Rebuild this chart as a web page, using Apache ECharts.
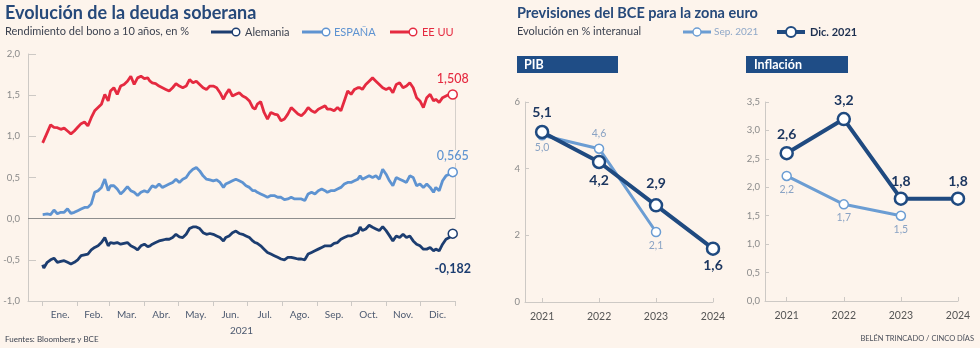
<!DOCTYPE html>
<html>
<head>
<meta charset="utf-8">
<script src="https://cdn.jsdelivr.net/npm/echarts@6/dist/echarts.min.js"></script>
<style>
  html, body { margin: 0; padding: 0; background: #fdf4ec; }
  #chart { width: 980px; height: 348px; }
</style>
</head>
<body>
<div id="chart"></div>
<script>
// 10-year bond yields in 2021 (day of year, %)
const days = [
  0,1,4,7,10,13,16,19,22,25,28,31,34,37,40,43,46,49,52,55,58,60,63,66,69,72,75,78,81,84,87,90,93,
  95,97,100,103,106,109,112,115,118,121,124,127,130,133,136,139,142,145,148,151,154,157,160,162,165,168,171,174,177,180,183,186,
  188,190,193,196,199,202,205,208,211,214,217,220,223,226,229,232,235,238,241,244,247,250,252,255,258,261,264,267,270,273,276,279,
  281,283,286,289,292,295,298,301,304,307,310,313,316,319,322,325,328,331,334,337,340,343,346,348,351,354,357,360,363
];
const yieldUS = [
  0.92,0.92,1.045,1.14,1.11,1.105,1.085,1.10,1.065,1.03,1.065,1.11,1.154,1.174,1.126,1.226,1.31,1.35,1.39,1.51,1.43,1.55,1.59,1.51,1.61,1.63,1.67,1.73,1.63,1.71,1.73,1.70,1.71,
  1.67,1.65,1.64,1.61,1.59,1.57,1.55,1.59,1.64,1.61,1.59,1.61,1.69,1.65,1.67,1.63,1.59,1.57,1.61,1.61,1.59,1.53,1.45,1.51,1.57,1.49,1.51,1.53,1.49,1.47,1.43,1.35,
  1.33,1.39,1.42,1.29,1.21,1.29,1.27,1.26,1.19,1.21,1.27,1.35,1.31,1.27,1.25,1.29,1.35,1.31,1.29,1.33,1.35,1.37,1.33,1.33,1.31,1.35,1.31,1.43,1.55,1.51,1.57,1.59,
  1.59,1.57,1.63,1.67,1.71,1.67,1.63,1.59,1.57,1.59,1.53,1.63,1.65,1.59,1.61,1.65,1.59,1.47,1.43,1.35,1.47,1.51,1.43,1.45,1.41,1.47,1.49,1.51,1.508
];
const yieldSpain = [
  0.05,0.03,0.057,0.05,0.105,0.06,0.077,0.077,0.12,0.065,0.077,0.097,0.117,0.137,0.137,0.18,0.32,0.34,0.38,0.48,0.34,0.40,0.40,0.36,0.30,0.34,0.39,0.34,0.32,0.28,0.32,0.34,0.32,
  0.36,0.40,0.38,0.42,0.38,0.40,0.42,0.44,0.48,0.44,0.48,0.50,0.56,0.60,0.62,0.58,0.52,0.48,0.47,0.46,0.47,0.44,0.38,0.42,0.44,0.46,0.48,0.46,0.44,0.40,0.38,0.34,
  0.34,0.32,0.30,0.28,0.26,0.28,0.28,0.26,0.26,0.23,0.24,0.26,0.24,0.24,0.24,0.22,0.30,0.32,0.30,0.34,0.36,0.34,0.32,0.34,0.34,0.36,0.38,0.42,0.44,0.44,0.46,0.48,
  0.52,0.48,0.50,0.52,0.50,0.52,0.48,0.60,0.54,0.46,0.40,0.50,0.48,0.46,0.44,0.52,0.50,0.40,0.42,0.38,0.42,0.38,0.32,0.38,0.34,0.46,0.52,0.54,0.565
];
const yieldGermany = [
  -0.56,-0.60,-0.53,-0.50,-0.48,-0.53,-0.52,-0.51,-0.53,-0.55,-0.53,-0.50,-0.45,-0.44,-0.43,-0.38,-0.35,-0.33,-0.29,-0.23,-0.33,-0.29,-0.30,-0.29,-0.31,-0.30,-0.29,-0.33,-0.35,-0.38,-0.33,-0.31,-0.34,
  -0.33,-0.31,-0.29,-0.27,-0.26,-0.25,-0.25,-0.23,-0.19,-0.22,-0.23,-0.19,-0.12,-0.10,-0.10,-0.12,-0.17,-0.19,-0.18,-0.19,-0.21,-0.23,-0.27,-0.23,-0.21,-0.17,-0.15,-0.18,-0.19,-0.21,-0.23,-0.27,
  -0.29,-0.30,-0.33,-0.37,-0.41,-0.43,-0.45,-0.47,-0.49,-0.50,-0.47,-0.47,-0.48,-0.49,-0.49,-0.50,-0.43,-0.41,-0.39,-0.37,-0.35,-0.33,-0.33,-0.33,-0.30,-0.29,-0.25,-0.23,-0.21,-0.21,-0.19,-0.17,
  -0.10,-0.145,-0.125,-0.08,-0.105,-0.125,-0.145,-0.097,-0.145,-0.206,-0.27,-0.21,-0.23,-0.19,-0.23,-0.21,-0.27,-0.31,-0.33,-0.37,-0.37,-0.35,-0.39,-0.37,-0.39,-0.31,-0.25,-0.23,-0.182
];
const monthStarts = [0,31,59,90,120,151,181,212,243,273,304,334,365];
const monthNames = ['Ene.','Feb.','Mar.','Abr.','May.','Jun.','Jul.','Ago.','Sep.','Oct.','Nov.','Dic.'];

// ECB projections
const years = [2021, 2022, 2023, 2024];
const pibDic = [5.1, 4.2, 2.9, 1.6];
const pibSep = [5.0, 4.6, 2.1];
const inflDic = [2.6, 3.2, 1.8, 1.8];
const inflSep = [2.2, 1.7, 1.5];

const BG = '#fdf4ec';
const C_DE = '#1c3d70';
const C_ES = '#5e93d1';
const C_US = '#e52a40';
const C_DIC = '#1f4a80';
const C_SEP = '#6b9dd3';
const AXIS = '#cdc9c5';
const LABEL = '#8a8a8a';
const FONT = 'Lato, "Noto Sans", sans-serif';

const comma = (v, d) => v.toFixed(d).replace('.', ',');

const midMonths = monthStarts.slice(0, 12).map((s, i) => (s + monthStarts[i + 1]) / 2);

function yieldSeries(name, values, color, labelPos, labelDist, bold) {
  const data = days.map((d, i) => [d, values[i]]);
  const last = data.length - 1;
  data[last] = {
    value: data[last],
    symbol: 'circle',
    symbolSize: 9,
    itemStyle: { color: '#fff', borderColor: color, borderWidth: 1.5 },
    label: {
      show: true, position: labelPos, distance: labelDist,
      formatter: p => comma(p.value[1], 3),
      color: color, fontSize: 12.5, fontWeight: bold ? 700 : 500, fontFamily: FONT,
      backgroundColor: BG, padding: [0, 1]
    }
  };
  return {
    type: 'line', name, xAxisIndex: 0, yAxisIndex: 0,
    data, symbol: 'none', showSymbol: true, smooth: false,
    lineStyle: { color, width: 2.8 }, itemStyle: { color },
    emphasis: { disabled: true }, animation: false, z: 3
  };
}

function forecastSeries(idx, values, color, width, size, border, fontSize, bold, positions, dists) {
  return {
    type: 'line', xAxisIndex: idx, yAxisIndex: idx,
    data: values.map((v, i) => ({
      value: [years[i], v],
      label: { position: positions[i], distance: dists[i] }
    })),
    symbol: 'circle', symbolSize: size,
    lineStyle: { color, width },
    itemStyle: { color: '#fff', borderColor: color, borderWidth: border },
    label: {
      show: true, formatter: p => comma(p.value[1], 1),
      color: bold ? '#1d3760' : '#8aa3c4', fontSize, fontWeight: bold ? 700 : 400, fontFamily: FONT
    },
    emphasis: { disabled: true }, animation: false, z: bold ? 4 : 3
  };
}

const smallAxisLabel = { color: LABEL, fontSize: 9.5, fontFamily: FONT };

function yearAxis(gridIndex, min) {
  return {
    gridIndex, type: 'value', min, max: 2024,
    axisLine: { show: true, onZero: false, lineStyle: { color: AXIS } },
    axisTick: { show: true, inside: true, length: 4, customValues: years, lineStyle: { color: AXIS } },
    axisLabel: { customValues: years, margin: 9, formatter: v => String(v), color: '#555', fontSize: 10.5, fontFamily: FONT },
    splitLine: { show: false }
  };
}

function valueAxis(gridIndex, max, interval, decimals, tickLen) {
  return {
    gridIndex, type: 'value', min: 0, max, interval,
    axisLine: { show: true, onZero: false, lineStyle: { color: AXIS } },
    axisTick: { show: true, inside: true, length: tickLen, lineStyle: { color: AXIS } },
    axisLabel: { ...smallAxisLabel, margin: 5, formatter: v => comma(v, decimals) },
    splitLine: { show: false }
  };
}

const chart = echarts.init(document.getElementById('chart'), null, { renderer: 'canvas' });
chart.setOption({
  backgroundColor: BG,
  animation: false,
  grid: [
    { left: 28, top: 54, width: 427, height: 247 },
    { left: 525, top: 102, width: 188, height: 200 },
    { left: 765, top: 102, width: 193, height: 199 }
  ],
  xAxis: [
    {
      gridIndex: 0, type: 'value', min: -13, max: 365,
      axisLine: { show: true, onZero: false, lineStyle: { color: AXIS, width: 1 } },
      axisTick: { show: true, customValues: monthStarts, length: 5, lineStyle: { color: AXIS } },
      axisLabel: {
        customValues: midMonths, margin: 9,
        formatter: v => monthNames[midMonths.indexOf(v)] || '',
        color: '#4d5a70', fontSize: 10, fontFamily: FONT
      },
      splitLine: { show: false },
      name: '2021', nameLocation: 'middle', nameGap: 25,
      nameTextStyle: { color: '#4d5a70', fontSize: 10, fontFamily: FONT }
    },
    yearAxis(1, 2020.7),
    yearAxis(2, 2020.62)
  ],
  yAxis: [
    {
      gridIndex: 0, type: 'value', min: -1, max: 2, interval: 0.5,
      axisLine: { show: true, onZero: false, lineStyle: { color: AXIS } },
      axisTick: { show: true, inside: true, length: 8, lineStyle: { color: AXIS } },
      axisLabel: { ...smallAxisLabel, margin: 8, formatter: v => comma(v, 1) },
      splitLine: { show: false }
    },
    valueAxis(1, 6, 2, 0, 4),
    valueAxis(2, 3.5, 0.5, 1, 4)
  ],
  series: [
    Object.assign(yieldSeries('Alemania', yieldGermany, C_DE, 'bottom', 24, true), {
      markLine: {
        silent: true, symbol: 'none', label: { show: false }, animation: false,
        lineStyle: { color: '#8e8e8e', width: 1, type: 'solid' },
        data: [{ yAxis: 0 }]
      }
    }),
    yieldSeries('ESPAÑA', yieldSpain, C_ES, 'top', 4, false),
    Object.assign(yieldSeries('EE UU', yieldUS, C_US, 'top', 4, false), {
      markLine: {
        silent: true, symbol: 'none', label: { show: false }, animation: false, z: 1,
        lineStyle: { color: '#d5d0cb', width: 1, type: 'solid' },
        data: [[{ coord: [365, yieldUS[yieldUS.length - 1]] }, { coord: [365, 0] }]]
      }
    }),
    forecastSeries(1, pibSep, C_SEP, 3, 9, 1.5, 10.5, false, ['bottom', 'top', 'bottom'], [2, 4, 3]),
    forecastSeries(1, pibDic, C_DIC, 4, 12, 2.5, 14, true, ['top', 'bottom', 'top', 'bottom'], [5, 4, 8, 3]),
    forecastSeries(2, inflSep, C_SEP, 3, 9, 1.5, 10.5, false, ['bottom', 'bottom', 'bottom'], [3, 3, 3]),
    forecastSeries(2, inflDic, C_DIC, 4, 12, 2.5, 14, true, ['top', 'top', 'top', 'top'], [4, 4, 3, 3])
  ],
  graphic: [
    // left block titles
    { type: 'text', left: 5, top: 4, style: { text: 'Evolución de la deuda soberana', fill: '#26497a', font: `bold 18px ${FONT}` } },
    { type: 'text', left: 5, top: 26, style: { text: 'Rendimiento del bono a 10 años, en %', fill: '#3c4250', font: `11px ${FONT}` } },
    // left legend
    { type: 'line', shape: { x1: 211, y1: 32, x2: 233, y2: 32 }, style: { stroke: C_DE, lineWidth: 3 } },
    { type: 'circle', shape: { cx: 236, cy: 32, r: 3.8 }, style: { fill: '#fff', stroke: C_DE, lineWidth: 1.4 } },
    { type: 'text', x: 245, y: 32, style: { text: 'Alemania', fill: '#3c4250', font: `11px ${FONT}`, textVerticalAlign: 'middle' } },
    { type: 'line', shape: { x1: 302, y1: 32, x2: 323, y2: 32 }, style: { stroke: C_ES, lineWidth: 3 } },
    { type: 'circle', shape: { cx: 326, cy: 32, r: 3.8 }, style: { fill: '#fff', stroke: C_ES, lineWidth: 1.4 } },
    { type: 'text', x: 334, y: 32, style: { text: 'ESPAÑA', fill: C_ES, font: `11px ${FONT}`, textVerticalAlign: 'middle' } },
    { type: 'line', shape: { x1: 390, y1: 32, x2: 410, y2: 32 }, style: { stroke: C_US, lineWidth: 3 } },
    { type: 'circle', shape: { cx: 413, cy: 32, r: 3.8 }, style: { fill: '#fff', stroke: C_US, lineWidth: 1.4 } },
    { type: 'text', x: 422, y: 32, style: { text: 'EE UU', fill: C_US, font: `11px ${FONT}`, textVerticalAlign: 'middle' } },

    // right block titles
    { type: 'text', left: 517, top: 6, style: { text: 'Previsiones del BCE para la zona euro', fill: '#26497a', font: `bold 14.5px ${FONT}` } },
    { type: 'text', left: 517, top: 26, style: { text: 'Evolución en % interanual', fill: '#3c4250', font: `11px ${FONT}` } },
    // right legend
    { type: 'line', shape: { x1: 683, y1: 32, x2: 711, y2: 32 }, style: { stroke: C_SEP, lineWidth: 3 } },
    { type: 'circle', shape: { cx: 697, cy: 32, r: 4 }, style: { fill: '#fff', stroke: C_SEP, lineWidth: 1.4 } },
    { type: 'text', x: 714, y: 32, style: { text: 'Sep. 2021', fill: '#8fa8c8', font: `10px ${FONT}`, textVerticalAlign: 'middle' } },
    { type: 'line', shape: { x1: 777, y1: 32, x2: 805, y2: 32 }, style: { stroke: C_DIC, lineWidth: 4 } },
    { type: 'circle', shape: { cx: 791, cy: 32, r: 5 }, style: { fill: '#fff', stroke: C_DIC, lineWidth: 2 } },
    { type: 'text', x: 810, y: 32, style: { text: 'Dic. 2021', fill: '#1d2f4f', font: `bold 11px ${FONT}`, textVerticalAlign: 'middle' } },

    // panel headers
    { type: 'rect', shape: { x: 517, y: 56, width: 101, height: 17 }, style: { fill: '#1f4d86' } },
    { type: 'text', x: 524, y: 64.5, style: { text: 'PIB', fill: '#fff', font: `bold 12.5px ${FONT}`, textVerticalAlign: 'middle' } },
    { type: 'rect', shape: { x: 746, y: 56, width: 102, height: 17 }, style: { fill: '#1f4d86' } },
    { type: 'text', x: 754, y: 64.5, style: { text: 'Inflación', fill: '#fff', font: `bold 12.5px ${FONT}`, textVerticalAlign: 'middle' } },

    // footer
    { type: 'text', left: 5, top: 335, style: { text: 'Fuentes: Bloomberg y BCE', fill: '#3c4250', font: `8px ${FONT}` } },
    { type: 'text', right: 6, top: 335, style: { text: 'BELÉN TRINCADO / CINCO DÍAS', fill: '#4a4f5a', font: `7.5px ${FONT}` } }
  ]
});
</script>
</body>
</html>
